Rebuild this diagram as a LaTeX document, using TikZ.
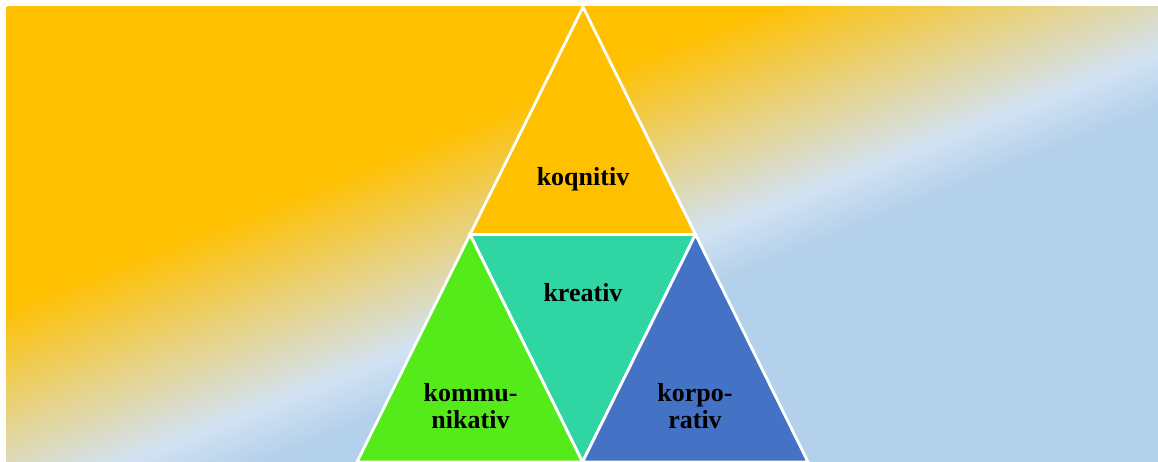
\documentclass[tikz,border=0pt]{standalone}
\usepackage{fontspec}
\setmainfont{Liberation Serif}
\usepackage{xcolor}
\definecolor{BgOrange}{HTML}{FFC000}
\definecolor{BgLight}{HTML}{D2E2F3}
\definecolor{BgBlue}{HTML}{B4D1EB}
\definecolor{TopOrange}{HTML}{FFC000}
\definecolor{MidTeal}{HTML}{2FD6A3}
\definecolor{LeftGreen}{HTML}{55EB1A}
\definecolor{RightBlue}{HTML}{4472C4}
% the shaded box spans 25bp..75bp
\pgfdeclarehorizontalshading{bgshade}{100bp}{color(0bp)=(BgOrange); color(41.5bp)=(BgOrange); color(52.5bp)=(BgLight); color(55.5bp)=(BgBlue); color(100bp)=(BgBlue)}

\begin{document}
\begin{tikzpicture}[
        x=0.02cm, y=-0.02cm,
        part/.style={
            draw=white,
            line width=1.6pt,
            line join=miter
        },
        parttext/.style={
            font=\bfseries\fontsize{14.8}{15.4}\selectfont,
            align=center,
            inner sep=0pt
        }
    ]
        \useasboundingbox (0,0) rectangle (1158,462);
        % background, gradient along the box diagonal
        \coordinate (bgc) at (582,234.5);
        \begin{scope}
            \clip (6,7) rectangle (1158,462);
            \shade[shading=bgshade, shading angle=0,
                transform canvas={rotate around={-68.45:(bgc)}}]
                (158.8,-465.5) rectangle (1005.2,934.5);
        \end{scope}

        \coordinate (apex) at (583,7);
        \coordinate (baseL) at (357,462);
        \coordinate (baseR) at (808,462);
        \coordinate (midL) at (470,234.5);
        \coordinate (midR) at (695.5,234.5);
        \coordinate (midB) at (582.5,462);

        \filldraw[part, fill=TopOrange] (apex) -- (midR) -- (midL) -- cycle;
        \filldraw[part, fill=MidTeal] (midL) -- (midR) -- (midB) -- cycle;
        \filldraw[part, fill=LeftGreen] (midL) -- (midB) -- (baseL) -- cycle;
        \filldraw[part, fill=RightBlue] (midR) -- (baseR) -- (midB) -- cycle;

        \node[parttext, anchor=base] (cog) at (583,186) {koqnitiv};
        \node[parttext, anchor=base] (cre) at (583,301) {kreativ};
        \node[parttext] (com) at (470.5,406) {kommu-\\nikativ};
        \node[parttext] (cor) at (695,406) {korpo-\\rativ};
    \end{tikzpicture}
\end{document}
